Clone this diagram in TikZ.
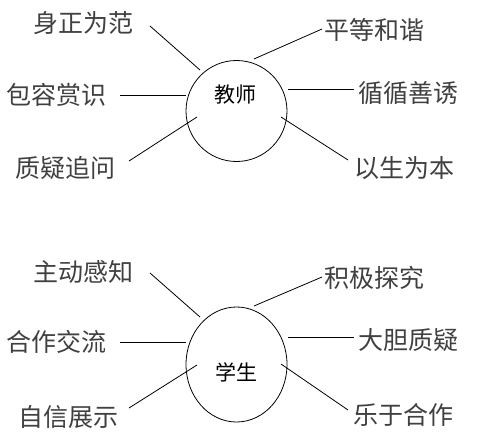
\documentclass[tikz,border=0pt]{standalone}
\usepackage{fontspec}
\newfontfamily\cjk{Noto Sans CJK SC}
\usepackage{tikz}
\usetikzlibrary{shapes.geometric}

\tikzset{
    term/.style={font=\cjk\fontsize{25}{25}\selectfont, text=black!75, inner sep=0pt},
    role/.style={font=\cjk\fontsize{21}{21}\selectfont, inner sep=0pt},
}

\begin{document}
\begin{tikzpicture}[x=1pt, y=-1pt, line width=0.8pt]
    \useasboundingbox (0,0) rectangle (495,447);

    % teacher
    \node[draw, circle, minimum size=101pt, inner sep=0pt] at (236.5,111) (teacher) {};
    \node[role] at (235,95) (tname) {教师};

    \node[term] at (83,23) (t1) {身正为范};
    \node[term] at (374,30) (t2) {平等和谐};
    \node[term] at (56,95) (t3) {包容赏识};
    \node[term] at (408,93) (t4) {循循善诱};
    \node[term] at (66,168) (t5) {质疑追问};
    \node[term] at (404,168) (t6) {以生为本};

    \coordinate (t1a) at (150,26);  \coordinate (t1b) at (200,70);
    \coordinate (t2a) at (322,29);  \coordinate (t2b) at (254,59);
    \coordinate (t3a) at (120,95);  \coordinate (t3b) at (186,95);
    \coordinate (t4a) at (354,89);  \coordinate (t4b) at (288,89);
    \coordinate (t5a) at (129,161); \coordinate (t5b) at (197,117);
    \coordinate (t6a) at (348,160); \coordinate (t6b) at (281,117);

    \draw (t1a) -- (t1b);
    \draw (t2a) -- (t2b);
    \draw (t3a) -- (t3b);
    \draw (t4a) -- (t4b);
    \draw (t5a) -- (t5b);
    \draw (t6a) -- (t6b);

    % student
    \node[draw, ellipse, minimum width=101pt, minimum height=115pt, inner sep=0pt] at (236.5,364.5) (student) {};
    \node[role] at (236,372) (sname) {学生};

    \node[term] at (83,272) (s1) {主动感知};
    \node[term] at (374,278) (s2) {积极探究};
    \node[term] at (56,342) (s3) {合作交流};
    \node[term] at (408,340) (s4) {大胆质疑};
    \node[term] at (68,417) (s5) {自信展示};
    \node[term] at (403,415) (s6) {乐于合作};

    \coordinate (s1a) at (150,273); \coordinate (s1b) at (200,317);
    \coordinate (s2a) at (322,277); \coordinate (s2b) at (254,306);
    \coordinate (s3a) at (120,342); \coordinate (s3b) at (186,342);
    \coordinate (s4a) at (354,337); \coordinate (s4b) at (288,337);
    \coordinate (s5a) at (129,408); \coordinate (s5b) at (197,365);
    \coordinate (s6a) at (348,410); \coordinate (s6b) at (281,364);

    \draw (s1a) -- (s1b);
    \draw (s2a) -- (s2b);
    \draw (s3a) -- (s3b);
    \draw (s4a) -- (s4b);
    \draw (s5a) -- (s5b);
    \draw (s6a) -- (s6b);
\end{tikzpicture}
\end{document}
